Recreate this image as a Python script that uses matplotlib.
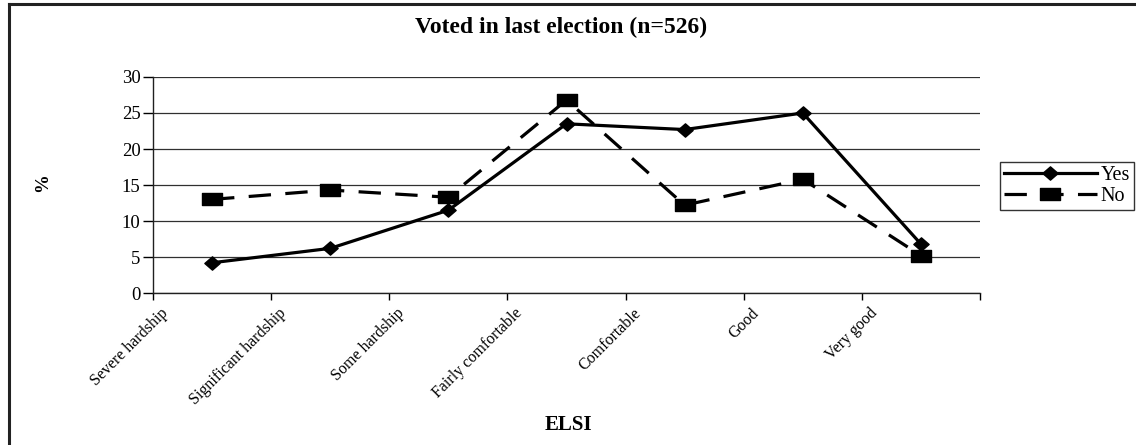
import matplotlib
matplotlib.use("Agg")
import matplotlib.pyplot as plt
from matplotlib.path import Path
from matplotlib.lines import Line2D

plt.rcParams['font.family'] = ['Liberation Serif', 'DejaVu Serif']

categories = ["Severe hardship", "Significant hardship", "Some hardship",
              "Fairly comfortable", "Comfortable", "Good", "Very good"]
yes_values = [4.2, 6.2, 11.5, 23.5, 22.7, 25.0, 6.8]
no_values = [13.0, 14.3, 13.3, 26.8, 12.2, 15.8, 5.2]
series_names = ["Yes", "No"]
y_ticks = [0, 5, 10, 15, 20, 25, 30]

W, H = 1136, 445
fig = plt.figure(figsize=(W / 100, H / 100), dpi=100)
fig.patch.set_facecolor("white")

# chart frame (top and left edges visible)
fig.add_artist(Line2D([9 / W, 1.0], [1 - 4 / H, 1 - 4 / H], color="#222222", lw=2.2,
                      transform=fig.transFigure))
fig.add_artist(Line2D([9 / W, 9 / W], [1 - 4 / H, 0.0], color="#222222", lw=2.2,
                      transform=fig.transFigure))

ax = fig.add_axes([153 / W, 1 - 293 / H, (980 - 153) / W, (293 - 77) / H])
x = list(range(len(categories)))

diamond = Path([(-1, 0), (0, 0.87), (1, 0), (0, -0.87), (-1, 0)],
               [Path.MOVETO, Path.LINETO, Path.LINETO, Path.LINETO, Path.CLOSEPOLY])
rect = Path([(-1, -0.58), (1, -0.58), (1, 0.58), (-1, 0.58), (-1, -0.58)],
            [Path.MOVETO, Path.LINETO, Path.LINETO, Path.LINETO, Path.CLOSEPOLY])

lw = 2.3
ax.plot(x, yes_values, color="black", lw=lw, marker=diamond, ms=11,
        label=series_names[0], zorder=4)
ax.plot(x, no_values, color="black", lw=lw, ls=(0, (7.0, 4.5)), marker=rect, ms=15,
        label=series_names[1], zorder=3)

ax.set_xlim(-0.5, len(categories) - 0.5)
ax.set_ylim(0, 30)
ax.set_yticks(y_ticks)
ax.yaxis.grid(True, color="#303030", lw=0.9)
ax.set_axisbelow(True)
for s in ("top", "right"):
    ax.spines[s].set_visible(False)
for s in ("left", "bottom"):
    ax.spines[s].set_linewidth(1.0)
    ax.spines[s].set_color("#202020")

ax.tick_params(axis="y", length=7, width=1.0, pad=2, labelsize=13.5)

# category boundaries carry the tick marks
ax.set_xticks([i - 0.5 for i in range(len(categories) + 1)], minor=True)
ax.tick_params(axis="x", which="minor", length=5, width=1.0)
ax.set_xticks([i - 0.44 for i in x])
ax.set_xticklabels(categories, rotation=45, ha="right", va="top",
                   rotation_mode="anchor", fontsize=11.5)
ax.tick_params(axis="x", which="major", length=0, pad=9)

fig.text(561 / W, 1 - 27 / H, "Voted in last election (n=526)", ha="center", va="center",
         fontsize=17, fontweight="bold")
fig.text(568 / W, 1 - 425 / H, "ELSI", ha="center", va="center",
         fontsize=15, fontweight="bold")
fig.text(43 / W, 1 - 183 / H, "%", ha="center", va="center", rotation=90,
         fontsize=13.5, fontweight="bold")

leg = fig.legend(loc="upper left", bbox_to_anchor=(1000 / W, 1 - 162 / H),
                 frameon=True, fancybox=False, shadow=False, fontsize=14.5,
                 handlelength=4.6, handletextpad=0.2, borderpad=0.2,
                 labelspacing=0.1, borderaxespad=0)
leg.get_frame().set_edgecolor("black")
leg.get_frame().set_linewidth(1.0)

fig.savefig("out.png", dpi=100, facecolor="white")
